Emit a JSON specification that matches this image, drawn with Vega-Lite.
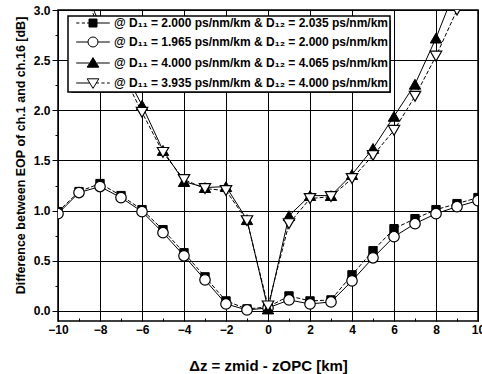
{
  "$schema": "https://vega.github.io/schema/vega-lite/v6.json",
  "width": 420,
  "height": 311,
  "autosize": {"type": "none"},
  "padding": {"left": 58, "top": 10, "right": 4, "bottom": 53},
  "config": {
    "font": "Liberation Sans",
    "view": {"stroke": "black", "strokeWidth": 1.5},
    "axis": {
      "labelFont": "Liberation Sans", "labelFontWeight": "bold", "labelFontSize": 12, "labelColor": "black",
      "titleFont": "Liberation Sans", "titleFontWeight": "bold", "titleColor": "black",
      "domain": false, "gridColor": "black", "gridWidth": 1, "tickColor": "black", "tickWidth": 1
    },
    "legend": {
      "orient": "none", "fillColor": "white", "strokeColor": "black", "strokeWidth": 1.5,
      "padding": 1, "labelFont": "Liberation Sans", "labelFontWeight": "bold", "labelFontSize": 12, "labelColor": "black",
      "labelLimit": 400, "symbolSize": 64, "symbolStrokeWidth": 1, "symbolOpacity": 1,
      "rowPadding": 6, "symbolOffset": 18, "labelOffset": 15
    }
  },
  "data": {"values": [
    {"x": -10, "y": 0.99, "series": "s1"}, {"x": -9, "y": 1.19, "series": "s1"}, {"x": -8, "y": 1.27, "series": "s1"}, {"x": -7, "y": 1.15, "series": "s1"}, {"x": -6, "y": 1.01, "series": "s1"}, {"x": -5, "y": 0.81, "series": "s1"}, {"x": -4, "y": 0.58, "series": "s1"}, {"x": -3, "y": 0.34, "series": "s1"}, {"x": -2, "y": 0.10, "series": "s1"}, {"x": -1, "y": 0.02, "series": "s1"}, {"x": 0, "y": 0.04, "series": "s1"}, {"x": 1, "y": 0.15, "series": "s1"}, {"x": 2, "y": 0.10, "series": "s1"}, {"x": 3, "y": 0.11, "series": "s1"}, {"x": 4, "y": 0.36, "series": "s1"}, {"x": 5, "y": 0.60, "series": "s1"}, {"x": 6, "y": 0.82, "series": "s1"}, {"x": 7, "y": 0.92, "series": "s1"}, {"x": 8, "y": 1.01, "series": "s1"}, {"x": 9, "y": 1.07, "series": "s1"}, {"x": 10, "y": 1.13, "series": "s1"},
    {"x": -10, "y": 0.97, "series": "s2"}, {"x": -9, "y": 1.18, "series": "s2"}, {"x": -8, "y": 1.24, "series": "s2"}, {"x": -7, "y": 1.13, "series": "s2"}, {"x": -6, "y": 0.99, "series": "s2"}, {"x": -5, "y": 0.78, "series": "s2"}, {"x": -4, "y": 0.55, "series": "s2"}, {"x": -3, "y": 0.31, "series": "s2"}, {"x": -2, "y": 0.07, "series": "s2"}, {"x": -1, "y": 0.01, "series": "s2"}, {"x": 0, "y": 0.03, "series": "s2"}, {"x": 1, "y": 0.11, "series": "s2"}, {"x": 2, "y": 0.07, "series": "s2"}, {"x": 3, "y": 0.09, "series": "s2"}, {"x": 4, "y": 0.30, "series": "s2"}, {"x": 5, "y": 0.53, "series": "s2"}, {"x": 6, "y": 0.74, "series": "s2"}, {"x": 7, "y": 0.87, "series": "s2"}, {"x": 8, "y": 0.97, "series": "s2"}, {"x": 9, "y": 1.04, "series": "s2"}, {"x": 10, "y": 1.10, "series": "s2"},
    {"x": -9, "y": 3.35, "series": "s3"}, {"x": -8, "y": 2.85, "series": "s3"}, {"x": -7, "y": 2.45, "series": "s3"}, {"x": -6, "y": 2.05, "series": "s3"}, {"x": -5, "y": 1.60, "series": "s3"}, {"x": -4, "y": 1.29, "series": "s3"}, {"x": -3, "y": 1.23, "series": "s3"}, {"x": -2, "y": 1.24, "series": "s3"}, {"x": -1, "y": 0.91, "series": "s3"}, {"x": 0, "y": 0.02, "series": "s3"}, {"x": 1, "y": 0.95, "series": "s3"}, {"x": 2, "y": 1.15, "series": "s3"}, {"x": 3, "y": 1.15, "series": "s3"}, {"x": 4, "y": 1.36, "series": "s3"}, {"x": 5, "y": 1.62, "series": "s3"}, {"x": 6, "y": 1.94, "series": "s3"}, {"x": 7, "y": 2.26, "series": "s3"}, {"x": 8, "y": 2.72, "series": "s3"}, {"x": 9, "y": 3.25, "series": "s3"}, {"x": 10, "y": 3.8, "series": "s3"},
    {"x": -9, "y": 3.3, "series": "s4"}, {"x": -8, "y": 2.8, "series": "s4"}, {"x": -7, "y": 2.4, "series": "s4"}, {"x": -6, "y": 1.98, "series": "s4"}, {"x": -5, "y": 1.58, "series": "s4"}, {"x": -4, "y": 1.31, "series": "s4"}, {"x": -3, "y": 1.22, "series": "s4"}, {"x": -2, "y": 1.20, "series": "s4"}, {"x": -1, "y": 0.90, "series": "s4"}, {"x": 0, "y": 0.05, "series": "s4"}, {"x": 1, "y": 0.87, "series": "s4"}, {"x": 2, "y": 1.12, "series": "s4"}, {"x": 3, "y": 1.14, "series": "s4"}, {"x": 4, "y": 1.32, "series": "s4"}, {"x": 5, "y": 1.55, "series": "s4"}, {"x": 6, "y": 1.80, "series": "s4"}, {"x": 7, "y": 2.14, "series": "s4"}, {"x": 8, "y": 2.54, "series": "s4"}, {"x": 9, "y": 3.0, "series": "s4"}, {"x": 10, "y": 3.5, "series": "s4"}
  ]},
  "encoding": {
    "x": {
      "field": "x", "type": "quantitative",
      "scale": {"domain": [-10, 10], "nice": false},
      "axis": {
        "values": [-10,-9,-8,-7,-6,-5,-4,-3,-2,-1,0,1,2,3,4,5,6,7,8,9,10],
        "labelExpr": "datum.value % 2 === 0 ? datum.label : ''",
        "tickSize": {"condition": {"test": "datum.value % 2 === 0", "value": -6}, "value": -3},
        "gridOpacity": {"condition": {"test": "datum.value % 2 === 0", "value": 1}, "value": 0},
        "labelPadding": 9, "labelFlush": false, "labelOverlap": false,
        "title": "Δz = zmid - zOPC [km]", "titleFontSize": 15, "titleY": 37, "titleBaseline": "top"
      }
    },
    "y": {
      "field": "y", "type": "quantitative",
      "scale": {"domain": [-0.1, 3.0], "nice": false, "zero": false},
      "axis": {
        "values": [0,0.25,0.5,0.75,1,1.25,1.5,1.75,2,2.25,2.5,2.75,3],
        "labelExpr": "(datum.value * 2) % 1 === 0 ? format(datum.value, '.1f') : ''",
        "tickSize": {"condition": {"test": "(datum.value * 2) % 1 === 0", "value": 6}, "value": 3},
        "gridOpacity": {"condition": {"test": "(datum.value * 2) % 1 === 0", "value": 1}, "value": 0},
        "labelPadding": 2, "labelOverlap": false,
        "title": "Difference between EOP of ch.1 and ch.16 [dB]", "titleFontSize": 12.5, "titlePadding": 6, "titleY": 145
      }
    }
  },
  "layer": [
    {
      "transform": [{"filter": "datum.series === 's2' || datum.series === 's3'"}],
      "mark": {"type": "line", "clip": true, "color": "black", "strokeWidth": 1},
      "encoding": {"detail": {"field": "series", "type": "nominal"}}
    },
    {
      "transform": [{"filter": "datum.series === 's1' || datum.series === 's4'"}],
      "mark": {"type": "line", "clip": true, "color": "black", "strokeWidth": 1, "strokeDash": [4, 2]},
      "encoding": {"detail": {"field": "series", "type": "nominal"}}
    },
    {
      "transform": [{"filter": "datum.series === 's1'"}],
      "mark": {"type": "point", "clip": true, "shape": "square", "filled": true, "fill": "black", "stroke": "black", "strokeWidth": 1, "size": 70, "opacity": 1},
      "encoding": {}
    },
    {
      "transform": [{"filter": "datum.series === 's2'"}],
      "mark": {"type": "point", "clip": true, "shape": "circle", "filled": true, "fill": "white", "stroke": "black", "strokeWidth": 1.2, "size": 110, "opacity": 1},
      "encoding": {}
    },
    {
      "transform": [{"filter": "datum.series === 's3'"}],
      "mark": {"type": "point", "clip": true, "shape": "triangle-up", "filled": true, "fill": "black", "stroke": "black", "strokeWidth": 1, "size": 130, "opacity": 1},
      "encoding": {}
    },
    {
      "transform": [{"filter": "datum.series === 's4'"}],
      "mark": {"type": "point", "clip": true, "shape": "triangle-down", "filled": true, "fill": "white", "stroke": "black", "strokeWidth": 1.2, "size": 130, "opacity": 1},
      "encoding": {}
    },
    {
      "mark": {"type": "point", "clip": true, "filled": true, "opacity": 0, "fill": "black", "stroke": "black"},
      "encoding": {
        "size": {
          "field": "series", "type": "nominal",
          "scale": {"domain": ["s4","s3","s2","s1"], "range": [64, 64, 64, 64]},
          "legend": {
            "title": null, "legendX": 14, "legendY": 11, "fillColor": "black", "strokeColor": "black", "labelColor": "black",
            "values": ["s1","s2","s3","s4"],
            "labelExpr": "' '",
            "labelOffset": 286,
            "rowPadding": 7
          }
        }
      }
    },
    {
      "mark": {"type": "point", "clip": true, "filled": true, "opacity": 0, "stroke": "black", "strokeWidth": 1},
      "encoding": {
        "shape": {
          "field": "series", "type": "nominal",
          "scale": {"domain": ["s1","s2","s3","s4"], "range": [
            "M-4.2,0H-3.4M-2.8,0H-2M-1.5,0H-1M1,0H4.2M-1,-1H1V1H-1Z",
            "M-4.2,0H-1.25M1.25,0H4.2M-1.25,0A1.25,1.25 0 1,1 1.25,0A1.25,1.25 0 1,1 -1.25,0Z",
            "M-4.2,0H-1M1,0H4.2M0,-1.35L1.45,1.05L-1.45,1.05Z",
            "M-4.2,0H-0.82M0.82,0H1.5M2.1,0H2.9M3.5,0H4.2M0,1.35L1.45,-1.05L-1.45,-1.05Z"
          ]},
          "legend": {
            "title": null, "legendX": 10, "legendY": 6,
            "labelExpr": "{'s1': '@ D₁₁ = 2.000 ps/nm/km & D₁₂ = 2.035 ps/nm/km', 's2': '@ D₁₁ = 1.965 ps/nm/km & D₁₂ = 2.000 ps/nm/km', 's3': '@ D₁₁ = 4.000 ps/nm/km & D₁₂ = 4.065 ps/nm/km', 's4': '@ D₁₁ = 3.935 ps/nm/km & D₁₂ = 4.000 ps/nm/km'}[datum.value]"
          }
        },
        "fill": {
          "field": "series", "type": "nominal",
          "scale": {"domain": ["s1","s2","s3","s4"], "range": ["black","white","black","white"]},
          "legend": {
            "title": null, "legendX": 10, "legendY": 6,
            "labelExpr": "{'s1': '@ D₁₁ = 2.000 ps/nm/km & D₁₂ = 2.035 ps/nm/km', 's2': '@ D₁₁ = 1.965 ps/nm/km & D₁₂ = 2.000 ps/nm/km', 's3': '@ D₁₁ = 4.000 ps/nm/km & D₁₂ = 4.065 ps/nm/km', 's4': '@ D₁₁ = 3.935 ps/nm/km & D₁₂ = 4.000 ps/nm/km'}[datum.value]"
          }
        }
      }
    }
  ]
}
